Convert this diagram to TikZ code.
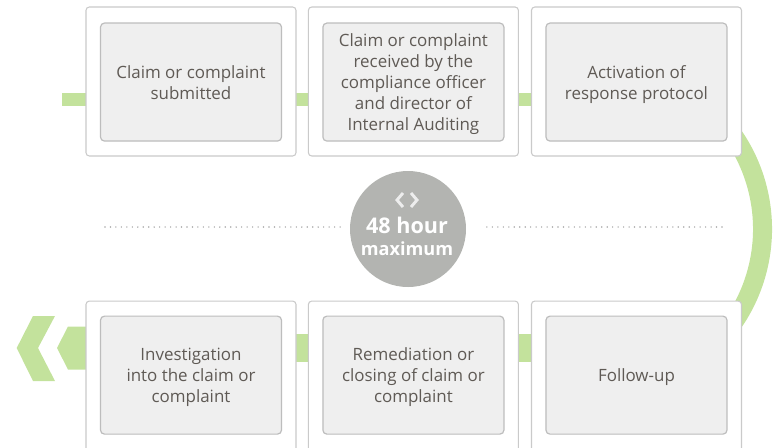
\documentclass[tikz,border=0pt]{standalone}
\usepackage{fontspec}
\setmainfont{Open Sans}
\usetikzlibrary{positioning,backgrounds}
\definecolor{leaf}{HTML}{C3E29C}
\definecolor{frame}{HTML}{CACACA}
\definecolor{panelline}{HTML}{BDBDBD}
\definecolor{panelbg}{HTML}{EFEFEF}
\definecolor{inkgrey}{HTML}{5F5A55}
\definecolor{discgrey}{HTML}{B3B4B1}
\definecolor{dotgrey}{HTML}{A8A8A8}
\tikzset{
  card/.style={draw=frame,fill=white,rounded corners=2.5pt,line width=0.8pt,inner sep=0pt,
               minimum width=157.5pt,minimum height=#1},
  card/.default=111.75pt,
  panel/.style={draw=panelline,fill=panelbg,rounded corners=3pt,line width=0.9pt,inner sep=0pt,
                minimum width=135.75pt,minimum height=88.5pt,align=center,text=inkgrey,
                text depth=#1,font=\fontsize{12.7}{15.75}\selectfont},
  panel/.default=-4.5pt,
  bar/.style={draw=leaf,line width=#1},
  bar/.default=9.75pt,
  disc/.style={circle,fill=discgrey,minimum size=87pt,inner sep=0pt},
  disctext/.style={align=center,text=white,inner sep=0pt,font=\bfseries\fontsize{13.6}{16.5}\selectfont},
  chev/.style={draw=white!93!black,line width=2.2pt},
  dotrow/.style={draw=dotgrey,line width=1.2pt,line cap=round,dash pattern=on 0pt off 4.1pt},
}

\begin{document}
\begin{tikzpicture}[x=0.75pt,y=-0.75pt]
  \useasboundingbox (0,0) rectangle (778,447);
  \clip (0,0) rectangle (778,447);
  % top row
  \node[card] (c1) at (191,81.5) {};
  \node[card, right=8.5pt of c1] (c2) {};
  \node[card, right=9pt of c2] (c3) {};
  \node[panel, below=12pt of c1.north] (p1) {Claim or complaint\\ submitted};
  \node[panel, below=12pt of c2.north] (p2) {Claim or complaint\\ received by the\\ compliance officer\\ and director of\\ Internal Auditing};
  \node[panel, below=12pt of c3.north] (p3) {Activation of\\ response protocol};
  % bottom row, cut off by the page edge
  \node[card=120pt, below=108pt of c1] (f1) {};
  \node[card=120pt, below=108pt of c2] (f2) {};
  \node[card=120pt, below=108pt of c3] (f3) {};
  \node[panel=0pt, below=11.25pt of f1.north] (q1) {Investigation\\ into the claim or\\ complaint};
  \node[panel=0pt, below=11.25pt of f2.north] (q2) {Remediation or\\ closing of claim or\\ complaint};
  \node[panel=0pt, below=11.25pt of f3.north] (q3) {Follow-up};
  % 48 hour disc
  \node[disc] (hours) at (408,229) {};
  \node[disctext] (hourlbl) at (407,236.5) {{\fontsize{16.2}{16.5}\selectfont 48 hour}\\ maximum};
  \draw[chev] ([shift={(-5,-36)}]hours.center) -- ([shift={(-11,-29)}]hours.center) -- ([shift={(-5,-22)}]hours.center);
  \draw[chev] ([shift={(3,-36)}]hours.center) -- ([shift={(9,-29)}]hours.center) -- ([shift={(3,-22)}]hours.center);
  \coordinate (dl) at (105,227);
  \coordinate (dr) at (722,227);
  \draw[dotrow, shorten >=5pt] (dl) -- (dl -| hours.west);
  \draw[dotrow, shorten >=14pt] (dr) -- (dr -| hours.east);
  % green track behind the cards
  \coordinate (tstart) at (62,99);
  \coordinate (bstart) at (57,348);
  \coordinate (arcc) at (598,229);
  \begin{scope}[on background layer]
    \draw[bar] (tstart) -- (c1 |- tstart);
    \draw[bar] (c1 |- tstart) -- (c2 |- tstart);
    \draw[bar] (c2 |- tstart) -- (c3 |- tstart);
    \draw[bar=14.25pt] (arcc) ++(55:123.4pt) arc[start angle=55,end angle=-55,radius=123.4pt];
    \draw[bar=21pt] (f3 |- bstart) -- (f2 |- bstart);
    \draw[bar=21pt] (f2 |- bstart) -- (f1 |- bstart);
    \fill[leaf] (bstart) -- (68,326.5) -- (f1 |- 0,326.5) -- (f1 |- 0,369.5) -- (68,369.5) -- cycle;
    \fill[leaf] (16.7,348) -- (33,316) -- (55,316) -- (38,348) -- (55,381) -- (33,381) -- cycle;
  \end{scope}
\end{tikzpicture}
\end{document}
